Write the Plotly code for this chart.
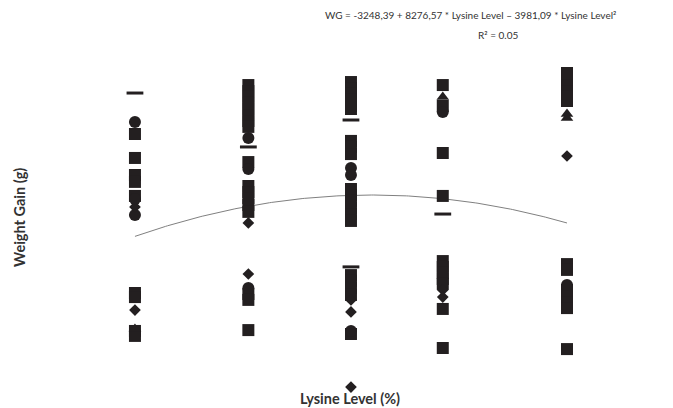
import numpy as np
import plotly.graph_objects as go

# Lysine levels (%) of the five dietary treatments
levels = [0.82, 0.925, 1.02, 1.105, 1.22]

# Weight gain (g) per treatment, grouped by marker series
square_wg = [
    [1336, 1225, 1146, 1114, 1049, 599, 580, 423, 400],
    [1563, 1535, 1508, 1480, 1452, 1424, 1396, 1369, 1206, 1095, 1067, 1039, 1007, 975,
     594, 567, 427],
    [1577, 1549, 1522, 1494, 1466, 1452, 1304, 1276, 1243, 1081, 1053, 1026, 993, 965, 933,
     682, 655, 622, 590, 409],
    [1563, 1466, 1248, 1049, 747, 720, 692, 664, 641, 525, 344],
    [1619, 1591, 1563, 1535, 1508, 1489, 733, 706, 613, 585, 557, 529, 339],
]
circle_wg = [
    [1392, 1035, 961],
    [1318, 1174, 622],
    [1179, 1146, 423],
    [1438],
    [636],
]
diamond_wg = [
    [998, 520],
    [924, 687],
    [567, 511, 163],
    [613, 580],
    [1234],
]
triangle_wg = [
    [432],
    [],
    [],
    [1508],
    [1429, 1410],
]
dash_wg = [
    [1526],
    [1276],
    [1401, 720],
    [965],
    [],
]

# Quadratic fit: WG = b0 + b1*L + b2*L^2
b0, b1, b2 = -3248.39, 8276.57, -3981.09
r_squared = 0.05

ink = "#231f20"


def flatten(groups):
    xs, ys = [], []
    for lvl, vals in zip(levels, groups):
        xs.extend([lvl] * len(vals))
        ys.extend(vals)
    return xs, ys


fig = go.Figure()

lx = np.linspace(levels[0], levels[-1], 200)
fig.add_trace(go.Scatter(x=lx, y=b0 + b1 * lx + b2 * lx ** 2, mode="lines",
                         line=dict(color="#808080", width=1), hoverinfo="skip"))

series = [
    (square_wg, dict(symbol="square", size=12, color=ink)),
    (circle_wg, dict(symbol="circle", size=12, color=ink)),
    (diamond_wg, dict(symbol="diamond", size=9, color=ink)),
    (triangle_wg, dict(symbol="triangle-up", size=11, color=ink)),
    (dash_wg, dict(symbol="line-ew", size=12, color=ink, line=dict(color=ink, width=3))),
]
for groups, marker in series:
    xs, ys = flatten(groups)
    marker.setdefault("line", dict(width=0))
    fig.add_trace(go.Scatter(x=xs, y=ys, mode="markers", marker=marker))

eq_font = dict(family="Lato", size=10, color="#333333")
title_font = dict(family="Lato", size=14.5, color="#333333")

fig.update_layout(
    width=673, height=408,
    margin=dict(l=60, r=33, t=50, b=13),
    paper_bgcolor="white", plot_bgcolor="white",
    showlegend=False,
    xaxis=dict(range=[0.7506, 1.2876], showgrid=False, zeroline=False,
               showticklabels=False, showline=False, ticks=""),
    yaxis=dict(range=[126.1, 1725.5], showgrid=False, zeroline=False,
               showticklabels=False, showline=False, ticks=""),
    annotations=[
        dict(text="WG = -3248,39 + 8276,57 * Lysine Level \u2013 3981,09 * Lysine Level\u00b2",
             xref="paper", yref="paper", x=0.7086, y=1.1014, showarrow=False,
             xanchor="center", yanchor="middle", font=eq_font),
        dict(text=f"R\u00b2 = {r_squared:.2f}",
             xref="paper", yref="paper", x=0.7552, y=1.0435, showarrow=False,
             xanchor="center", yanchor="middle", font=eq_font),
        dict(text="<b>Lysine Level (%)</b>",
             xref="paper", yref="paper", x=0.5, y=-0.0087, showarrow=False,
             xanchor="center", yanchor="middle", font=title_font),
        dict(text="<b>Weight Gain (g)</b>", textangle=-90,
             xref="paper", yref="paper", x=-0.069, y=0.516, showarrow=False,
             xanchor="center", yanchor="middle", font=title_font),
    ],
)

fig.write_html("out.html")
